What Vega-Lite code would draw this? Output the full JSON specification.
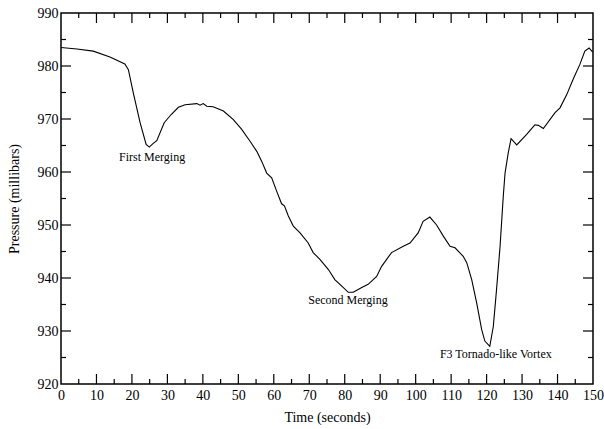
{
  "$schema": "https://vega.github.io/schema/vega-lite/v6.json",
  "width": 532,
  "height": 371,
  "autosize": "none",
  "padding": {"left": 61, "top": 13, "right": 11, "bottom": 45},
  "background": "white",
  "config": {
    "view": {"stroke": "black", "strokeWidth": 1.5},
    "font": "Liberation Serif",
    "axis": {
      "domain": false,
      "ticks": false,
      "tickSize": 0,
      "grid": false,
      "labelFont": "Liberation Serif",
      "labelFontSize": 14,
      "labelColor": "black",
      "titleFont": "Liberation Serif",
      "titleFontSize": 14,
      "titleFontWeight": "normal",
      "titleColor": "black"
    }
  },
  "datasets": {
    "pressure": [
      {"t": 0, "p": 983.5}, {"t": 4.5, "p": 983.2}, {"t": 9.1, "p": 982.8}, {"t": 13.8, "p": 981.7},
      {"t": 18.0, "p": 980.4}, {"t": 19.0, "p": 979.3}, {"t": 20.4, "p": 974.9}, {"t": 22.3, "p": 969.3},
      {"t": 24.0, "p": 965.2}, {"t": 24.9, "p": 964.7}, {"t": 26.0, "p": 965.4}, {"t": 27.0, "p": 965.9},
      {"t": 29.1, "p": 969.3}, {"t": 31.0, "p": 970.8}, {"t": 33.1, "p": 972.2}, {"t": 35.0, "p": 972.7},
      {"t": 38.3, "p": 972.9}, {"t": 39.2, "p": 972.6}, {"t": 40.1, "p": 972.9}, {"t": 41.1, "p": 972.4},
      {"t": 42.9, "p": 972.3}, {"t": 45.8, "p": 971.5}, {"t": 48.6, "p": 969.9}, {"t": 50.9, "p": 968.1},
      {"t": 53.3, "p": 965.8}, {"t": 55.2, "p": 963.9}, {"t": 56.6, "p": 962.0}, {"t": 58.0, "p": 959.8},
      {"t": 59.4, "p": 958.9}, {"t": 60.8, "p": 956.4}, {"t": 62.2, "p": 954.0}, {"t": 63.0, "p": 953.6},
      {"t": 64.1, "p": 951.7}, {"t": 65.5, "p": 949.8}, {"t": 67.4, "p": 948.5}, {"t": 69.7, "p": 946.6},
      {"t": 71.1, "p": 944.8}, {"t": 73.0, "p": 943.5}, {"t": 75.4, "p": 941.6}, {"t": 77.2, "p": 939.7},
      {"t": 79.1, "p": 938.5}, {"t": 81.0, "p": 937.3}, {"t": 82.4, "p": 937.3}, {"t": 84.8, "p": 938.2},
      {"t": 86.6, "p": 938.8}, {"t": 89.0, "p": 940.3}, {"t": 90.4, "p": 942.2}, {"t": 93.2, "p": 944.8},
      {"t": 96.5, "p": 946.0}, {"t": 98.4, "p": 946.6}, {"t": 100.7, "p": 948.5}, {"t": 102.1, "p": 950.7},
      {"t": 104.0, "p": 951.5}, {"t": 105.9, "p": 950.0}, {"t": 107.8, "p": 947.9}, {"t": 109.7, "p": 946.0},
      {"t": 111.1, "p": 945.7}, {"t": 113.4, "p": 944.1}, {"t": 114.4, "p": 942.9}, {"t": 115.8, "p": 939.7},
      {"t": 117.2, "p": 935.3}, {"t": 118.6, "p": 930.3}, {"t": 119.5, "p": 928.1}, {"t": 120.9, "p": 927.1},
      {"t": 121.9, "p": 930.9}, {"t": 122.8, "p": 937.8}, {"t": 123.8, "p": 946.0}, {"t": 124.7, "p": 955.4},
      {"t": 125.2, "p": 959.8}, {"t": 126.1, "p": 963.6}, {"t": 126.9, "p": 966.3}, {"t": 128.5, "p": 965.1},
      {"t": 131.3, "p": 967.1}, {"t": 133.6, "p": 968.9}, {"t": 134.6, "p": 968.8}, {"t": 136.0, "p": 968.2},
      {"t": 139.3, "p": 971.2}, {"t": 140.7, "p": 972.1}, {"t": 142.6, "p": 974.6}, {"t": 144.4, "p": 977.5},
      {"t": 146.3, "p": 980.3}, {"t": 147.7, "p": 982.8}, {"t": 148.9, "p": 983.4}, {"t": 149.9, "p": 982.6}
    ],
    "notes": [
      {"t": 25.7, "p": 962.9, "label": "First Merging"},
      {"t": 80.9, "p": 935.9, "label": "Second Merging"},
      {"t": 122.6, "p": 925.6, "label": "F3 Tornado-like Vortex"}
    ],
    "xmajor": [{"v": 10}, {"v": 20}, {"v": 30}, {"v": 40}, {"v": 50}, {"v": 60}, {"v": 70}, {"v": 80}, {"v": 90}, {"v": 100}, {"v": 110}, {"v": 120}, {"v": 130}, {"v": 140}],
    "xminor": [{"v": 5}, {"v": 15}, {"v": 25}, {"v": 35}, {"v": 45}, {"v": 55}, {"v": 65}, {"v": 75}, {"v": 85}, {"v": 95}, {"v": 105}, {"v": 115}, {"v": 125}, {"v": 135}, {"v": 145}],
    "ymajor": [{"v": 930}, {"v": 940}, {"v": 950}, {"v": 960}, {"v": 970}, {"v": 980}],
    "yminor": [{"v": 925}, {"v": 935}, {"v": 945}, {"v": 955}, {"v": 965}, {"v": 975}, {"v": 985}]
  },
  "layer": [
    {
      "data": {"name": "pressure"},
      "mark": {"type": "line", "color": "black", "strokeWidth": 1.1},
      "encoding": {
        "x": {
          "field": "t", "type": "quantitative",
          "scale": {"domain": [0, 150], "nice": false, "zero": false},
          "axis": {
            "orient": "bottom",
            "title": "Time (seconds)",
            "values": [0,10,20,30,40,50,60,70,80,90,100,110,120,130,140,150],
            "labelPadding": 4,
            "titlePadding": 8,
            "labelFlush": false,
            "labelOverlap": false
          }
        },
        "y": {
          "field": "p", "type": "quantitative",
          "scale": {"domain": [920, 990], "nice": false, "zero": false},
          "axis": {
            "orient": "left",
            "title": "Pressure (millibars)",
            "values": [920,930,940,950,960,970,980,990],
            "labelPadding": 3,
            "titlePadding": 16,
            "labelFlush": false,
            "labelOverlap": false
          }
        }
      }
    },
    {
      "data": {"name": "xmajor"},
      "mark": {"type": "tick", "orient": "vertical", "size": 10, "thickness": 1.2, "yOffset": -5, "color": "black", "opacity": 1},
      "encoding": {
        "x": {"field": "v", "type": "quantitative", "scale": {"domain": [0, 150], "nice": false, "zero": false}, "axis": null},
        "y": {"datum": 920, "type": "quantitative", "scale": {"domain": [920, 990], "nice": false, "zero": false}, "axis": null}
      }
    },
    {
      "data": {"name": "xmajor"},
      "mark": {"type": "tick", "orient": "vertical", "size": 10, "thickness": 1.2, "yOffset": 5, "color": "black", "opacity": 1},
      "encoding": {
        "x": {"field": "v", "type": "quantitative", "scale": {"domain": [0, 150], "nice": false, "zero": false}, "axis": null},
        "y": {"datum": 990, "type": "quantitative", "scale": {"domain": [920, 990], "nice": false, "zero": false}, "axis": null}
      }
    },
    {
      "data": {"name": "xminor"},
      "mark": {"type": "tick", "orient": "vertical", "size": 5, "thickness": 1.2, "yOffset": -2.5, "color": "black", "opacity": 1},
      "encoding": {
        "x": {"field": "v", "type": "quantitative", "scale": {"domain": [0, 150], "nice": false, "zero": false}, "axis": null},
        "y": {"datum": 920, "type": "quantitative", "scale": {"domain": [920, 990], "nice": false, "zero": false}, "axis": null}
      }
    },
    {
      "data": {"name": "xminor"},
      "mark": {"type": "tick", "orient": "vertical", "size": 5, "thickness": 1.2, "yOffset": 2.5, "color": "black", "opacity": 1},
      "encoding": {
        "x": {"field": "v", "type": "quantitative", "scale": {"domain": [0, 150], "nice": false, "zero": false}, "axis": null},
        "y": {"datum": 990, "type": "quantitative", "scale": {"domain": [920, 990], "nice": false, "zero": false}, "axis": null}
      }
    },
    {
      "data": {"name": "ymajor"},
      "mark": {"type": "tick", "orient": "horizontal", "size": 10, "thickness": 1.2, "xOffset": 5, "color": "black", "opacity": 1},
      "encoding": {
        "y": {"field": "v", "type": "quantitative", "scale": {"domain": [920, 990], "nice": false, "zero": false}, "axis": null},
        "x": {"datum": 0, "type": "quantitative", "scale": {"domain": [0, 150], "nice": false, "zero": false}, "axis": null}
      }
    },
    {
      "data": {"name": "ymajor"},
      "mark": {"type": "tick", "orient": "horizontal", "size": 10, "thickness": 1.2, "xOffset": -5, "color": "black", "opacity": 1},
      "encoding": {
        "y": {"field": "v", "type": "quantitative", "scale": {"domain": [920, 990], "nice": false, "zero": false}, "axis": null},
        "x": {"datum": 150, "type": "quantitative", "scale": {"domain": [0, 150], "nice": false, "zero": false}, "axis": null}
      }
    },
    {
      "data": {"name": "yminor"},
      "mark": {"type": "tick", "orient": "horizontal", "size": 5, "thickness": 1.2, "xOffset": 2.5, "color": "black", "opacity": 1},
      "encoding": {
        "y": {"field": "v", "type": "quantitative", "scale": {"domain": [920, 990], "nice": false, "zero": false}, "axis": null},
        "x": {"datum": 0, "type": "quantitative", "scale": {"domain": [0, 150], "nice": false, "zero": false}, "axis": null}
      }
    },
    {
      "data": {"name": "yminor"},
      "mark": {"type": "tick", "orient": "horizontal", "size": 5, "thickness": 1.2, "xOffset": -2.5, "color": "black", "opacity": 1},
      "encoding": {
        "y": {"field": "v", "type": "quantitative", "scale": {"domain": [920, 990], "nice": false, "zero": false}, "axis": null},
        "x": {"datum": 150, "type": "quantitative", "scale": {"domain": [0, 150], "nice": false, "zero": false}, "axis": null}
      }
    },
    {
      "data": {"name": "notes"},
      "mark": {"type": "text", "font": "Liberation Serif", "fontSize": 12, "color": "black", "align": "center", "baseline": "middle"},
      "encoding": {
        "x": {"field": "t", "type": "quantitative", "scale": {"domain": [0, 150], "nice": false, "zero": false}, "axis": null},
        "y": {"field": "p", "type": "quantitative", "scale": {"domain": [920, 990], "nice": false, "zero": false}, "axis": null},
        "text": {"field": "label"}
      }
    }
  ],
  "resolve": {
    "scale": {"x": "independent", "y": "independent"},
    "axis": {"x": "independent", "y": "independent"}
  }
}
